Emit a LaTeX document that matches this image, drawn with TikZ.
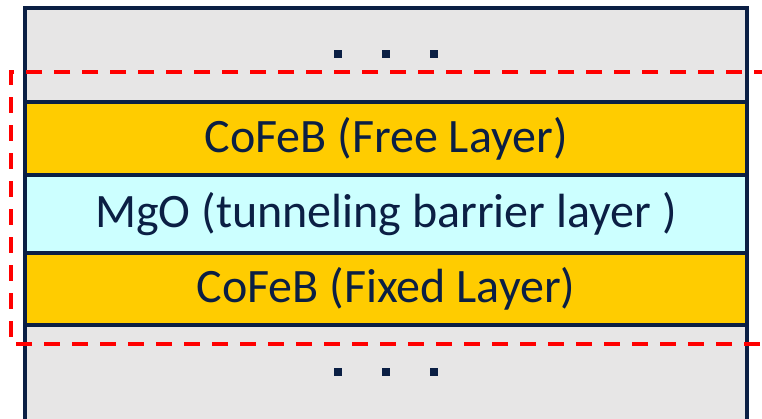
\documentclass[tikz,border=0pt]{standalone}
\usepackage{fontspec}
\setmainfont{Carlito}
\usepackage{tikz}

\definecolor{navy}{HTML}{0B1F44}
\definecolor{capgray}{HTML}{E7E6E6}
\definecolor{layeryellow}{HTML}{FFCC00}
\definecolor{barriercyan}{HTML}{CCFFFF}
\definecolor{dashred}{HTML}{FF0000}

\tikzset{
  layer/.style={draw=navy,line width=3.5pt,minimum width=722pt,inner sep=0pt,
    text=navy,font=\fontsize{48}{52}\selectfont},
  dot/.style={fill=navy,minimum size=8pt,inner sep=0pt}
}

\begin{document}
\begin{tikzpicture}[x=1pt,y=-1pt]
\useasboundingbox (0,0) rectangle (762,418);
\clip (0,0) rectangle (762,418);
\node[layer,fill=capgray,minimum height=94pt] (topcap) at (386,55) {};
\node[layer,fill=capgray,minimum height=110pt] (bottomcap) at (386,380) {};
\node[layer,fill=layeryellow,minimum height=73pt] (free) at (386,138.5) {CoFeB (Free Layer)};
\node[layer,fill=barriercyan,minimum height=78pt] (barrier) at (386,214) {MgO (tunneling barrier layer )};
\node[layer,fill=layeryellow,minimum height=72pt] (fixed) at (386,289) {CoFeB (Fixed Layer)};
\foreach \x in {338,386,434} {
  \node[dot] at (\x,54) {};
  \node[dot] at (\x,372) {};
}
\coordinate (mtjtopright) at (770,72);
\coordinate (mtjtopleft) at (11,72);
\coordinate (mtjbotleft) at (11,344);
\coordinate (mtjbotright) at (770,344);
\draw[dashred,line width=3.5pt,dash pattern=on 16pt off 12pt]
  (mtjtopright) -- (mtjtopleft) -- (mtjbotleft) -- (mtjbotright);
\end{tikzpicture}
\end{document}
